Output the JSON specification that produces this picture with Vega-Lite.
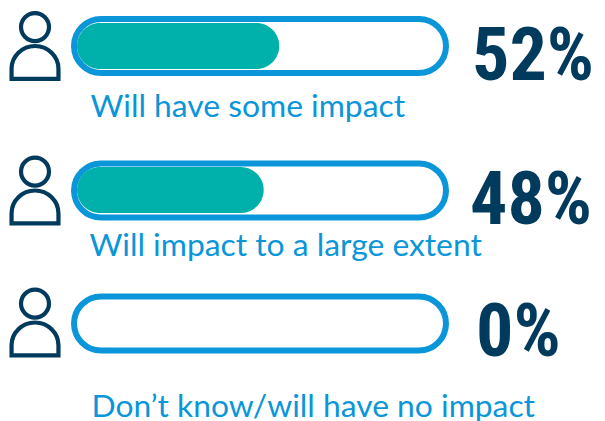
{
  "$schema": "https://vega.github.io/schema/vega-lite/v6.json",
  "width": 605,
  "height": 421,
  "autosize": {"type": "fit", "contains": "padding"},
  "padding": 0,
  "background": "white",
  "view": {"stroke": null},
  "data": {"values": [
    {"order": 1, "answer": "Will have some impact", "share": 52, "start": 0, "full": 100},
    {"order": 2, "answer": "Will impact to a large extent", "share": 48, "start": 0, "full": 100},
    {"order": 3, "answer": "Don’t know/will have no impact", "share": 0, "start": 0, "full": 100}
  ]},
  "transform": [{"calculate": "datum.share + '%'", "as": "shareLabel"}],
  "resolve": {"scale": {"x": "independent", "y": "independent"}},
  "layer": [
    {
      "description": "Person icon beside each answer",
      "mark": {
        "type": "point",
        "filled": false,
        "stroke": "#003a5d",
        "strokeWidth": 4.2,
        "opacity": 1,
        "size": 4900,
        "shape": "M-0.4 -0.54 A0.4 0.4 0 1 1 0.4 -0.54 A0.4 0.4 0 1 1 -0.4 -0.54 Z M-0.67 0.94 V0.65 A0.67 0.65 0 0 1 0.67 0.65 V0.94 Z"
      },
      "encoding": {
        "x": {"field": "order", "type": "quantitative", "axis": null, "scale": {"domain": [1, 3], "range": [35, 35], "zero": false, "nice": false}},
        "y": {"field": "order", "type": "quantitative", "axis": null, "scale": {"domain": [1, 2, 3], "range": [46, 190.5, 322.5], "zero": false, "nice": false}}
      }
    },
    {
      "description": "Empty track: a white capsule with a blue outline",
      "mark": {"type": "bar", "orient": "horizontal", "size": 54, "fill": "white", "stroke": "#0a96d8", "strokeWidth": 6, "cornerRadius": 27},
      "encoding": {
        "x": {"field": "start", "type": "quantitative", "axis": null, "scale": {"domain": [0, 100], "range": [74, 446], "zero": false, "nice": false}},
        "x2": {"field": "full"},
        "y": {"field": "order", "type": "quantitative", "axis": null, "scale": {"domain": [1, 2, 3], "range": [46, 190.5, 323.5], "zero": false, "nice": false, "padding": 0}}
      }
    },
    {
      "description": "Teal fill whose length is the share of respondents",
      "mark": {"type": "bar", "orient": "horizontal", "size": 46, "fill": "#00b0aa", "cornerRadius": 23},
      "encoding": {
        "x": {"field": "start", "type": "quantitative", "axis": null, "scale": {"domain": [0, 100], "range": [77, 466], "zero": false, "nice": false}},
        "x2": {"field": "share"},
        "y": {"field": "order", "type": "quantitative", "axis": null, "scale": {"domain": [1, 2, 3], "range": [46, 190, 323.5], "zero": false, "nice": false, "padding": 0}}
      }
    },
    {
      "description": "Answer caption under each track",
      "mark": {"type": "text", "align": "left", "baseline": "alphabetic", "font": "Lato", "fontSize": 31.8, "fill": "#0a96d8"},
      "encoding": {
        "x": {"field": "order", "type": "quantitative", "axis": null, "scale": {"domain": [1, 2, 3], "range": [90.5, 89.5, 91.5], "zero": false, "nice": false}},
        "y": {"field": "order", "type": "quantitative", "axis": null, "scale": {"domain": [1, 2, 3], "range": [117, 256, 417], "zero": false, "nice": false}},
        "text": {"field": "answer"}
      }
    },
    {
      "description": "Large percentage figure to the right of each track",
      "mark": {"type": "text", "align": "left", "baseline": "alphabetic", "font": "Roboto Condensed, Roboto", "fontWeight": "bold", "fontSize": 74, "fill": "#003a5d"},
      "encoding": {
        "x": {"field": "share", "type": "quantitative", "axis": null, "scale": {"domain": [0, 48, 52], "range": [476, 470, 472], "zero": false, "nice": false}},
        "y": {"field": "order", "type": "quantitative", "axis": null, "scale": {"domain": [1, 2, 3], "range": [80, 224, 356], "zero": false, "nice": false}},
        "text": {"field": "shareLabel"}
      }
    }
  ]
}
